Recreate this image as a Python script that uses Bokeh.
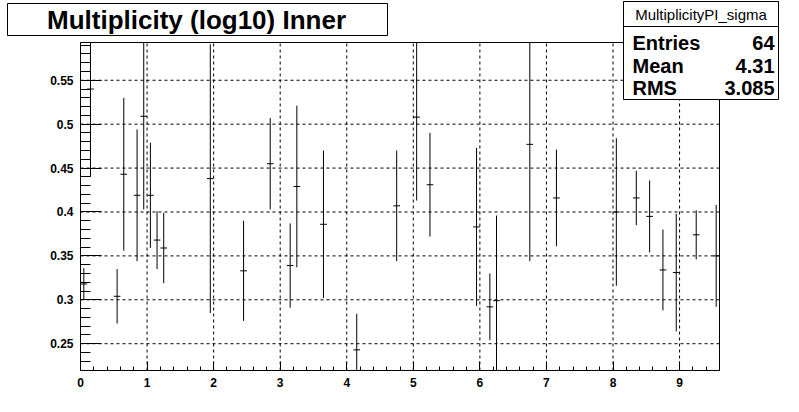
import numpy as np
from bokeh.plotting import figure
from bokeh.models import Range1d, FixedTicker, BoxAnnotation, Label, ColumnDataSource
from bokeh.embed import file_html
from bokeh.resources import INLINE

# ---- data ----
bin_center = [0.05, 0.15, 0.55, 0.65, 0.85, 0.95, 1.05, 1.15, 1.25, 1.95,
              2.45, 2.85, 3.15, 3.25, 3.65, 4.15, 4.75, 5.05, 5.25, 5.95,
              6.15, 6.25, 6.75, 7.15, 8.05, 8.35, 8.55, 8.75, 8.95, 9.25, 9.55]
bin_value = [0.318, 0.540, 0.304, 0.443, 0.419, 0.509, 0.419, 0.368, 0.359, 0.438,
             0.333, 0.455, 0.339, 0.429, 0.386, 0.243, 0.407, 0.508, 0.431, 0.383,
             0.292, 0.299, 0.477, 0.416, 0.400, 0.416, 0.395, 0.334, 0.331, 0.374, 0.350]
bin_error = [0.018, 0.100, 0.031, 0.087, 0.075, 0.106, 0.060, 0.033, 0.040, 0.153,
             0.057, 0.052, 0.048, 0.092, 0.084, 0.041, 0.063, 0.095, 0.059, 0.090,
             0.038, 0.097, 0.133, 0.055, 0.084, 0.031, 0.041, 0.046, 0.067, 0.028, 0.058]
bin_width = 0.1

x_min, x_max = 0.0, 9.6
y_min, y_max = 0.2195, 0.593

x_ticks = [0, 1, 2, 3, 4, 5, 6, 7, 8, 9]
x_tick_labels = ["0", "1", "2", "3", "4", "5", "6", "7", "8", "9"]
y_ticks = [0.25, 0.3, 0.35, 0.4, 0.45, 0.5, 0.55]
y_tick_labels = ["0.25", "0.3", "0.35", "0.4", "0.45", "0.5", "0.55"]

title_text = "Multiplicity (log10) Inner"
stats_name = "MultiplicityPI_sigma"
stats_keys = ["Entries", "Mean", "RMS"]
stats_values = ["64", "4.31", "3.085"]

FONT = "Liberation Sans"

# ---- layout: the Bokeh frame fills the whole canvas; the ROOT pad frame
#      sits inside it at pixels (80..719, 42..370) ----
W, H = 799, 412
FL, FR, FT, FB = 80, 719, 42, 370
sx = (FR - FL) / (x_max - x_min)
sy = (FB - FT) / (y_max - y_min)
xr = Range1d(x_min - FL / sx, x_max + (W - FR) / sx)
yr = Range1d(y_min - (H - FB) / sy, y_max + FT / sy)

p = figure(width=W, height=H, x_range=xr, y_range=yr,
           output_backend="svg", toolbar_location=None, min_border=0)
p.background_fill_color = "white"
p.border_fill_color = "white"
p.outline_line_color = None
p.grid.visible = False

# axes (drawn at the pad frame's edges)
xt = FixedTicker(ticks=x_ticks, minor_ticks=[round(v, 2) for v in np.arange(0, 9.61, 0.2)])
yt = FixedTicker(ticks=y_ticks, minor_ticks=[round(v, 2) for v in np.arange(0.22, 0.595, 0.01)])
p.xaxis.ticker = xt
p.yaxis.ticker = yt
p.xaxis.fixed_location = y_min
p.yaxis.fixed_location = x_min
p.xaxis.bounds = (x_min, x_max)
p.yaxis.bounds = (y_min, y_max)
p.xaxis.major_label_overrides = dict(zip(x_ticks, x_tick_labels))
p.yaxis.major_label_overrides = dict(zip(y_ticks, y_tick_labels))
for ax in (p.xaxis, p.yaxis):
    ax.axis_line_color = "black"
    ax.major_tick_line_color = "black"
    ax.minor_tick_line_color = "black"
    ax.major_tick_out = 0
    ax.minor_tick_out = 0
    ax.major_label_text_font = FONT
    ax.major_label_text_font_style = "bold"
    ax.major_label_text_font_size = "12px"
    ax.major_label_text_color = "black"
    ax.major_label_standoff = 7
p.xaxis.major_tick_in = 9
p.xaxis.minor_tick_in = 4
p.yaxis.major_tick_in = 21
p.yaxis.minor_tick_in = 10

# dashed grid restricted to the pad frame
gx = [t for t in x_ticks if t > x_min]
p.segment(x0=gx, y0=[y_min] * len(gx), x1=gx, y1=[y_max] * len(gx),
          line_color="black", line_width=1, line_dash="3 3")
p.segment(x0=[x_min] * len(y_ticks), y0=y_ticks, x1=[x_max] * len(y_ticks), y1=y_ticks,
          line_color="black", line_width=1, line_dash="3 3")

# error bars (clipped to the pad frame)
c = np.array(bin_center)
v = np.array(bin_value)
e = np.array(bin_error)
src = ColumnDataSource(dict(x=c, lo=np.clip(v - e, y_min, y_max), hi=np.clip(v + e, y_min, y_max),
                            y=v, xl=c - bin_width / 2, xr=c + bin_width / 2))
p.segment(x0="x", y0="lo", x1="x", y1="hi", source=src, line_color="black", line_width=1)
p.segment(x0="xl", y0="y", x1="xr", y1="y", source=src, line_color="black", line_width=1)

# pad frame border
p.add_layout(BoxAnnotation(left=x_min, right=x_max, bottom=y_min, top=y_max,
                           fill_alpha=0, line_color="black", line_width=1, line_alpha=1))


def sbox(l, r, t, b):
    # page-pixel box (top-left origin) -> screen units (bottom-left origin)
    return BoxAnnotation(left=l, right=r, top=H - t, bottom=H - b,
                         left_units="screen", right_units="screen",
                         bottom_units="screen", top_units="screen",
                         fill_color="white", fill_alpha=1.0,
                         line_color="black", line_width=1, line_alpha=1)


def slabel(x, y, text, size, bold=True, align="left"):
    return Label(x=x, y=H - y, x_units="screen", y_units="screen", text=text,
                 text_font=FONT, text_font_style="bold" if bold else "normal",
                 text_font_size=size, text_align=align, text_baseline="middle",
                 text_color="black")


# title box
p.add_layout(sbox(7, 387, 3, 35))
p.add_layout(slabel(196, 19, title_text, "26px", align="center"))

# stats box
p.add_layout(sbox(623, 778, 1, 99))
p.add_layout(sbox(623, 778, 1, 26))
p.add_layout(slabel(700.5, 14, stats_name, "15px", bold=False, align="center"))
row_y = [42, 65, 87]
for k, val, yy in zip(stats_keys, stats_values, row_y):
    p.add_layout(slabel(632, yy, k, "20px"))
    p.add_layout(slabel(774, yy, val, "20px", align="right"))

open("out.html", "w").write(file_html(p, INLINE))
